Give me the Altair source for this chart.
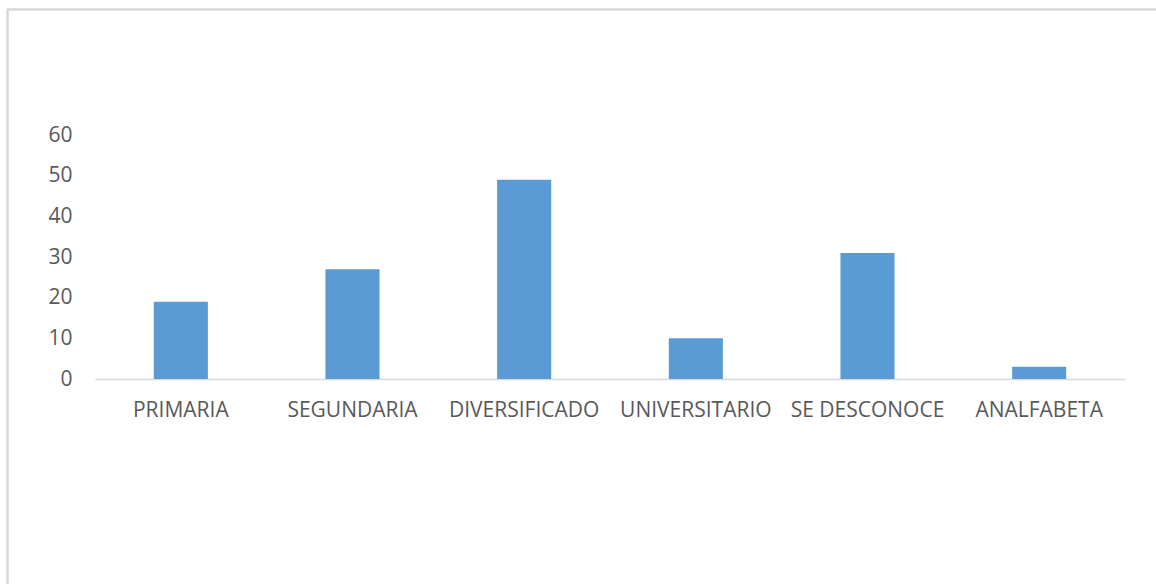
import altair as alt
import pandas as pd

categories = ["PRIMARIA", "SEGUNDARIA", "DIVERSIFICADO", "UNIVERSITARIO", "SE DESCONOCE", "ANALFABETA"]
values = [19, 27, 49, 10, 31, 3]
y_ticks = [0, 10, 20, 30, 40, 50, 60]

df = pd.DataFrame({"cat": categories, "val": values})

FONT = "Open Sans"
TXT = "#595959"
GRID = "#D9D9D9"

bars = alt.Chart(df).mark_bar(color="#5B9BD5").encode(
    x=alt.X("cat:N", sort=categories, title=None,
            scale=alt.Scale(paddingInner=0.685, paddingOuter=0.3425),
            axis=alt.Axis(labelAngle=0, ticks=False, domainColor=GRID, domainWidth=1.5,
                          labelPadding=20, labelFontSize=21, labelColor=TXT, labelFont=FONT)),
    y=alt.Y("val:Q", title=None,
            scale=alt.Scale(domain=[0, 60], nice=False),
            axis=alt.Axis(values=y_ticks, ticks=False, domain=False, grid=False,
                          labelPadding=23, labelFontSize=21, labelColor=TXT, labelFont=FONT)),
)

frame_top = alt.Chart(df).mark_rule(color=GRID, strokeWidth=1.5).encode(
    x=alt.value(-88), x2=alt.value(1100), y=alt.value(-125.5)
)
frame_left = alt.Chart(df).mark_rule(color=GRID, strokeWidth=1.5).encode(
    x=alt.value(-87.5), y=alt.value(-126), y2=alt.value(460)
)

chart = alt.layer(frame_top, frame_left, bars).properties(
    width=1030, height=244,
    background="white",
    autosize=alt.AutoSizeParams(type="none"),
    padding={"left": 95, "top": 135, "right": 31, "bottom": 205},
).configure_view(strokeWidth=0, stroke="transparent")

chart.save("out.html", embed_options={"renderer": "svg", "actions": False})
